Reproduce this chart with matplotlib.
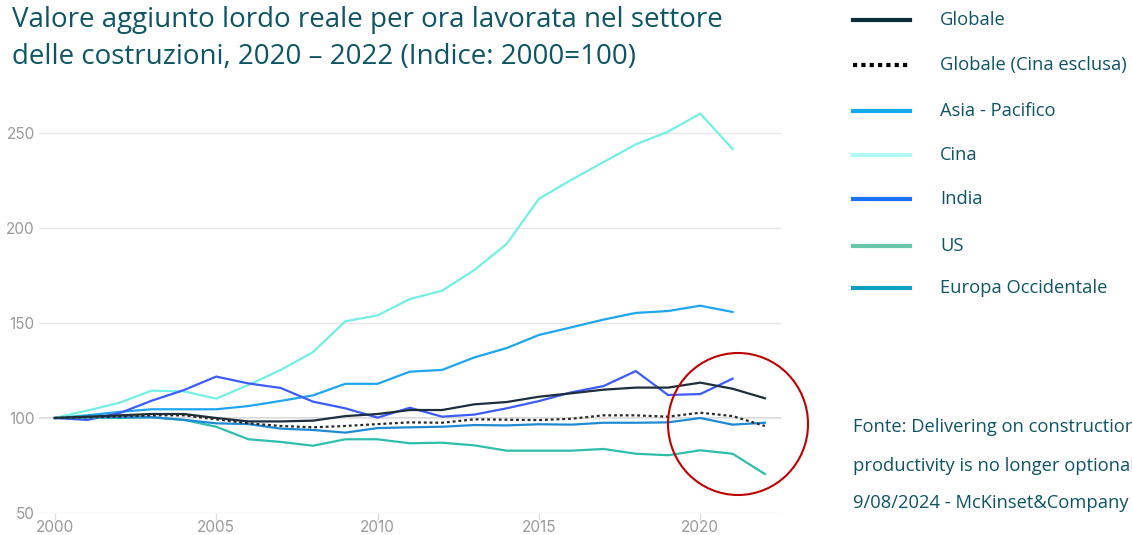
import matplotlib
matplotlib.use("Agg")
import matplotlib.pyplot as plt
from matplotlib.lines import Line2D
from matplotlib.patches import Ellipse

years = list(range(2000, 2023))

globale = [100, 100.7, 101.4, 102.1, 102.1, 100, 98.2, 98.2, 98.6, 101, 102.1,
           104.2, 104.2, 107.2, 108.4, 111.2, 113, 114.9, 116, 116, 118.6, 115.4, 110.4]
globale_excl_cina = [100, 100.4, 100.7, 101.4, 101.4, 99.3, 97.2, 95.8, 95.1, 95.8, 96.8,
                     97.7, 97.5, 99.3, 99.1, 98.9, 99.6, 101.4, 101.4, 100.7, 102.8, 101, 95.8]
asia_pacifico = [100, 101.4, 103.2, 104.6, 104.6, 104.6, 106.3, 109, 111.9, 118, 118,
                 124.4, 125.3, 131.9, 136.8, 143.7, 147.7, 151.8, 155.3, 156.3, 159.1, 155.8]
cina = [100, 103.9, 108, 114.4, 114, 110.2, 117.4, 125.3, 134.7, 150.9, 154,
        162.6, 167, 177.9, 191.6, 215.4, 225.3, 234.7, 244, 250.7, 260.2, 241.6]
india = [100, 99, 102.5, 109.1, 114.7, 121.8, 118.2, 115.8, 108.6, 105.1, 100.2,
         105.4, 100.7, 101.8, 105.1, 108.9, 113.5, 116.8, 124.7, 112.1, 112.6, 120.7]
us = [100, 100.4, 100, 100.4, 99, 95.4, 88.8, 87.4, 85.4, 88.8, 88.8,
      86.7, 87, 85.6, 82.8, 82.8, 82.8, 83.7, 81.2, 80.4, 83, 81.2, 70.5]
europa_occ = [100, 100.4, 100.4, 100.4, 99, 97.2, 96.8, 94.4, 93.7, 92.3, 94.7,
              95.1, 95.4, 96.3, 96.1, 96.7, 96.5, 97.5, 97.5, 97.7, 100, 96.5, 97.5]

legend_labels = ["Globale", "Globale (Cina esclusa)", "Asia - Pacifico", "Cina",
                 "India", "US", "Europa Occidentale"]
yticks = [50, 100, 150, 200, 250]
xticks = [2000, 2005, 2010, 2015, 2020]

title_lines = ["Valore aggiunto lordo reale per ora lavorata nel settore",
               "delle costruzioni, 2020 \u2013 2022 (Indice: 2000=100)"]
source_lines = ["Fonte: Delivering on construction",
                "productivity is no longer optional",
                "9/08/2024 - McKinset&Company"]

W, H = 1132, 535
fig = plt.figure(figsize=(W / 100, H / 100), dpi=100)
ax = fig.add_axes([39 / W, 1 - 513 / H, (781 - 39) / W, (513 - 95) / H])

line_cols = ["#1d2f3c", "#2a2a2a", "#1fa6f0", "#74efe4", "#3d5cff", "#2fbeac", "#1f8ad2"]
series = [globale, globale_excl_cina, asia_pacifico, cina, india, us, europa_occ]
for s, c, lab in zip(series, line_cols, legend_labels):
    ls = (0, (1.3, 1.3)) if lab == "Globale (Cina esclusa)" else "-"
    ax.plot(years[:len(s)], s, color=c, lw=1.6, ls=ls, zorder=3 if lab.startswith("Globale") else 2,
            solid_joinstyle="miter")

ax.set_xlim(1999.51, 2022.5)
ax.set_ylim(50, 270)
ax.set_yticks(yticks)
ax.set_xticks(xticks)
ax.grid(axis="y", color="#e8e8e8", lw=1)
ax.axhline(100, color="#cfcfcf", lw=1.2, zorder=1)
for sp in ax.spines.values():
    sp.set_visible(False)
ax.tick_params(axis="y", length=0, pad=3, labelsize=11, labelcolor="#9a9a9a")
ax.tick_params(axis="x", length=5, width=1, color="#dddddd", pad=0, labelsize=11, labelcolor="#9a9a9a")
for t in ax.get_xticklabels() + ax.get_yticklabels():
    t.set_fontfamily("Inter")

teal = "#0f5563"
for i, (line, y) in enumerate(zip(title_lines, [20, 57])):
    fig.text(12 / W, 1 - y / H, line, ha="left", va="center", fontsize=20, color=teal,
             family="Open Sans")

leg_cols = ["#0b2e3a", "#000000", "#14aaf0", "#b0fbf5", "#1a70ff", "#66c8a8", "#10a0c0"]
leg_y = [20, 65, 111, 155, 199, 246, 288]
for lab, c, y in zip(legend_labels, leg_cols, leg_y):
    ls = (0, (1, 1)) if lab == "Globale (Cina esclusa)" else "-"
    fig.add_artist(Line2D([853 / W, 910 / W], [1 - y / H, 1 - y / H], color=c, lw=3,
                          ls=ls, transform=fig.transFigure))
    fig.text(940 / W, 1 - y / H, lab, ha="left", va="center", fontsize=13.2, color=teal,
             family="Open Sans")

for line, y in zip(source_lines, [427, 466, 503]):
    fig.text(853 / W, 1 - y / H, line, ha="left", va="center", fontsize=13.2, color=teal,
             family="Open Sans")

fig.add_artist(Ellipse((738 / W, 1 - 424 / H), 140 / W, 142 / H, transform=fig.transFigure,
                       fill=False, edgecolor="#c00000", lw=1.5))

fig.savefig("out.png", dpi=100)
